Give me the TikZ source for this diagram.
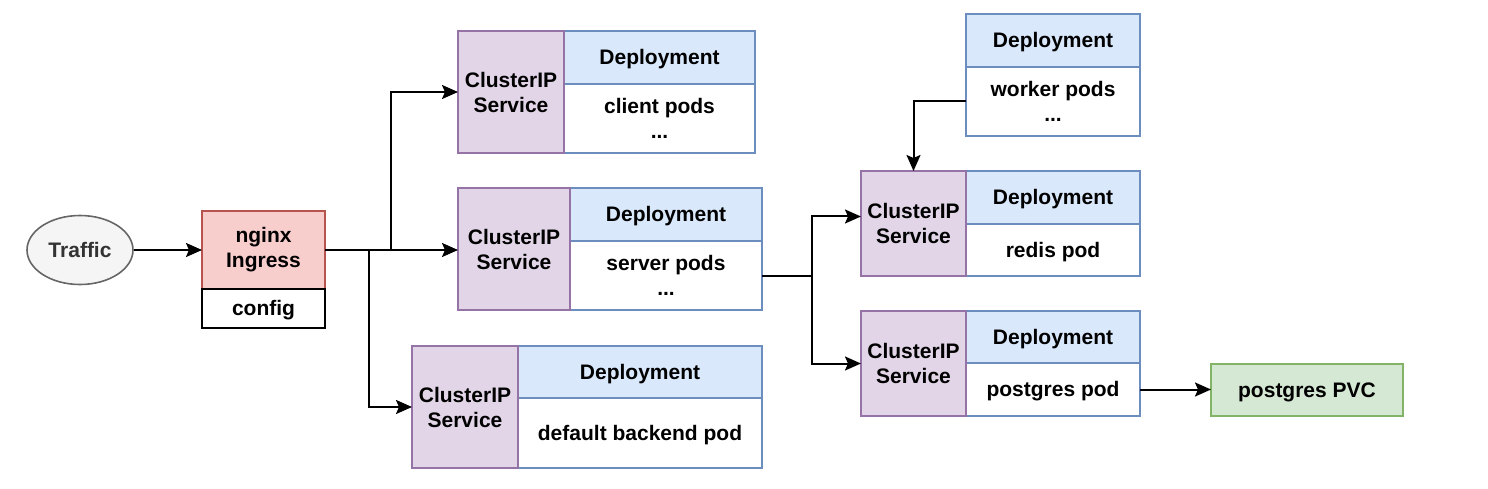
\documentclass[tikz,border=0pt]{standalone}
\usepackage{fontspec}
\setmainfont{Liberation Sans}
\usetikzlibrary{arrows.meta,shapes.geometric}

\definecolor{svcfill}{HTML}{E1D5E7}
\definecolor{svcline}{HTML}{9673A6}
\definecolor{depfill}{HTML}{DAE8FC}
\definecolor{depline}{HTML}{6C8EBF}
\definecolor{ingfill}{HTML}{F8CECC}
\definecolor{ingline}{HTML}{B85450}
\definecolor{pvcfill}{HTML}{D5E8D4}
\definecolor{pvcline}{HTML}{82B366}
\definecolor{trafill}{HTML}{F5F5F5}
\definecolor{traline}{HTML}{666666}
\definecolor{tratext}{HTML}{333333}

\tikzset{
  box/.style={draw, line width=1.6pt, inner sep=0pt, outer sep=0pt, anchor=north west,
    align=center, font=\bfseries\fontsize{21}{25}\selectfont},
  oneline/.style={text height=19pt, text depth=4.5pt},
  svc/.style={box, draw=svcline, fill=svcfill},
  dephead/.style={box, oneline, draw=depline, fill=depfill},
  depbody/.style={box, draw=depline, fill=white},
  arr/.style={line width=2pt, -{Stealth[length=16pt,width=14pt,inset=3pt]}},
}

\begin{document}
\begin{tikzpicture}[x=1pt,y=-1pt]
  \useasboundingbox (0,0) rectangle (1488,489);

  % traffic and ingress
  \node[ellipse, draw=traline, fill=trafill, text=tratext, line width=1.6pt, inner sep=0pt,
    minimum width=106pt, minimum height=69pt, font=\bfseries\fontsize{21}{25}\selectfont]
    (traffic) at (80,250) {Traffic};
  \node[box, draw=ingline, fill=ingfill, minimum width=123pt, minimum height=78pt]
    (ingress) at (202,211) {nginx\\Ingress};
  \node[box, oneline, draw=black, fill=white, minimum width=123pt, minimum height=39pt]
    (config) at (202,289) {config};

  % deployment headers
  \foreach \nm/\x/\y/\w/\h in {client/564/31/191/53, server/570/188/192/53, default/518/346/244/52,
                               worker/966/14/174/53, redis/966/171/174/53, postgres/966/311/174/52}
    \node[dephead, minimum width=\w pt, minimum height=\h pt] (head\nm) at (\x,\y) {Deployment};

  % pods
  \node[depbody, minimum width=191pt, minimum height=69pt] (podsclient) at (564,84) {client pods\\...};
  \node[depbody, minimum width=192pt, minimum height=69pt] (podsserver) at (570,241) {server pods\\...};
  \node[depbody, oneline, minimum width=244pt, minimum height=70pt] (podsdefault) at (518,398) {default backend pod};
  \node[depbody, minimum width=174pt, minimum height=69pt] (podsworker) at (966,67) {worker pods\\...};
  \node[depbody, oneline, minimum width=174pt, minimum height=52pt] (podsredis) at (966,224) {redis pod};
  \node[depbody, oneline, minimum width=174pt, minimum height=53pt] (podspostgres) at (966,363) {postgres pod};

  % services
  \node[svc, minimum width=106pt, minimum height=122pt] (svcclient) at (458,31) {ClusterIP\\Service};
  \node[svc, minimum width=112pt, minimum height=122pt] (svcserver) at (458,188) {ClusterIP\\Service};
  \node[svc, minimum width=106pt, minimum height=122pt] (svcdefault) at (412,346) {ClusterIP\\Service};
  \node[svc, minimum width=105pt, minimum height=105pt] (svcredis) at (861,171) {ClusterIP\\Service};
  \node[svc, minimum width=105pt, minimum height=105pt] (svcpostgres) at (861,311) {ClusterIP\\Service};

  % volume
  \node[box, oneline, draw=pvcline, fill=pvcfill, minimum width=192pt, minimum height=52pt]
    (pvc) at (1211,364) {postgres PVC};

  % connectors
  \coordinate (splitup) at (391,250);
  \coordinate (splitdown) at (369,250);
  \coordinate (splitdb) at (podsserver.east -| 812,0);

  \draw[arr] (traffic) -- (ingress);
  \draw[arr] (ingress.east) -- (ingress.east -| svcserver.west);
  \draw[arr] (ingress.east) -- (splitup) |- (svcclient.west);
  \draw[arr] (splitdown) |- (svcdefault.west);
  \draw[arr] (podsserver.east) -- (splitdb) |- ([yshift=7pt]svcredis.west);
  \draw[arr] (splitdb) |- (svcpostgres.west);
  \draw[arr] (podsworker.west) -| (svcredis.north);
  \draw[arr] (podspostgres.east) -- (podspostgres.east -| pvc.west);
\end{tikzpicture}
\end{document}
